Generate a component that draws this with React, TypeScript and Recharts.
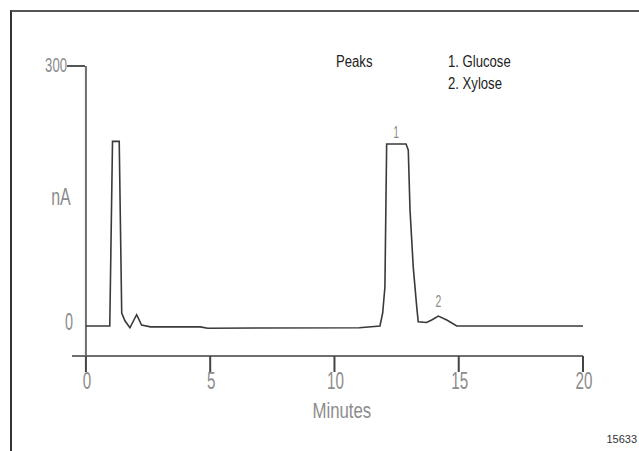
import React from 'react';
import { LineChart, Line, XAxis, YAxis, ReferenceLine, ReferenceDot } from 'recharts';

const times = [0, 0.96, 1.07, 1.34, 1.44, 1.57, 1.77, 2.04, 2.24, 2.6, 4.6, 4.9, 11.0, 11.83, 11.94, 12.03, 12.1, 12.88, 12.97, 13.04, 13.17, 13.31, 13.37, 13.71, 13.91, 14.18, 14.52, 14.92, 20.0];
const signal = [0, 0, 213, 213, 15, 6, -2, 13, 1, -1, -1, -2.5, -2, 0, 15, 45, 210, 210, 203, 134, 68, 22, 5, 4, 7, 11.5, 7, 0, 0];
const xTicks = [0, 5, 10, 15, 20];
const yTicks = [0, 300];
const peakLabels = [
  { t: 12.48, v: 210, name: '1' },
  { t: 14.18, v: 11.5, name: '2' },
];
const peakNames = ['1. Glucose', '2. Xylose'];

const data = times.map((t, i) => ({ t, nA: signal[i] }));
const Y_MIN = -34.6;
const X_MIN = -0.56;

const FONT = "'Liberation Sans', Arial, sans-serif";

function TallText({ x, y, text, sx = 1, sy = 1, anchor = 'middle', size = 16, fill = '#8c8c8c' }: any) {
  return (
    <text
      transform={`translate(${x},${y}) scale(${sx},${sy})`}
      x={0}
      y={0}
      textAnchor={anchor}
      fontSize={size}
      fontFamily={FONT}
      fill={fill}
    >
      {text}
    </text>
  );
}

function XTick(props: any) {
  const { x, y, payload } = props;
  return <TallText x={x + 1} y={y + 17} text={String(payload.value)} sx={0.95} sy={1.45} />;
}

function YTick(props: any) {
  const { x, y, payload } = props;
  if (payload.value === 300) {
    return (
      <g>
        <line x1={x - 5} x2={x + 13} y1={y} y2={y} stroke="#555" strokeWidth={2} />
        <TallText x={x - 5} y={y + 6} anchor="end" text="300" sx={0.82} sy={1.3} />
      </g>
    );
  }
  return <TallText x={x - 3} y={y + 4} text={String(payload.value)} sx={0.9} sy={1.45} />;
}

function PeakLabel(props: any) {
  const { viewBox, value } = props;
  const cx = viewBox.cx ?? viewBox.x;
  const cy = viewBox.cy ?? viewBox.y;
  const off = value === '1' ? 6 : 9;
  return <TallText x={cx} y={cy - off} text={value} sx={0.8} sy={1.3} size={13} />;
}

export default function App() {
  return (
    <div style={{ position: 'absolute', left: 0, top: 0, width: 639, height: 451, background: '#fff' }}>
      <div
        style={{
          position: 'absolute',
          left: 10,
          top: 10,
          width: 640,
          height: 450,
          borderTop: '2px solid #555',
          borderLeft: '2px solid #333',
        }}
      />
      <LineChart
        width={639}
        height={451}
        data={data}
        margin={{ top: 66, right: 56, bottom: 65, left: 12 }}
        style={{ position: 'absolute', left: 0, top: 0 }}
      >
        <XAxis
          type="number"
          dataKey="t"
          domain={[X_MIN, 20]}
          ticks={xTicks}
          allowDataOverflow
          height={30}
          axisLine={{ stroke: '#6e6e6e', strokeWidth: 2 }}
          tickLine={{ stroke: '#444', strokeWidth: 2 }}
          tickSize={16}
          tickMargin={0}
          tick={<XTick />}
          label={{
            content: (p: any) => (
              <TallText x={p.viewBox.x + p.viewBox.width * 0.528} y={p.viewBox.y + 62} text="Minutes" sx={1.05} sy={1.4} />
            ),
          }}
        />
        <YAxis
          type="number"
          domain={[Y_MIN, 300]}
          ticks={yTicks}
          allowDataOverflow
          width={60}
          axisLine={false}
          tickLine={false}
          tickSize={0}
          tickMargin={0}
          tick={<YTick />}
          label={{
            content: (p: any) => (
              <TallText x={p.viewBox.x + p.viewBox.width - 11} y={p.viewBox.y + 139} text="nA" sx={1} sy={1.5} />
            ),
          }}
        />
        <ReferenceLine
          segment={[{ x: 0, y: 300 }, { x: 0, y: Y_MIN }]}
          stroke="#6e6e6e"
          strokeWidth={2}
          ifOverflow="visible"
        />
        <Line
          type="linear"
          dataKey="nA"
          stroke="#3a3a3a"
          strokeWidth={1.6}
          dot={false}
          isAnimationActive={false}
        />
        {peakLabels.map((p) => (
          <ReferenceDot
            key={p.name}
            x={p.t}
            y={p.v}
            r={0}
            stroke="none"
            fill="none"
            ifOverflow="visible"
            label={<PeakLabel value={p.name} />}
          />
        ))}
      </LineChart>
      <svg width={639} height={451} style={{ position: 'absolute', left: 0, top: 0, pointerEvents: 'none' }}>
        <g fontFamily={FONT} fill="#222" fontSize={16}>
          <text transform="translate(336,67) scale(0.82,1)">Peaks</text>
          {peakNames.map((n, i) => (
            <text key={n} transform={`translate(448,${67 + i * 22}) scale(0.82,1)`}>
              {n}
            </text>
          ))}
        </g>
        <text x={637} y={443} textAnchor="end" fontSize={11} fontFamily={FONT} fill="#333">
          15633
        </text>
      </svg>
    </div>
  );
}
